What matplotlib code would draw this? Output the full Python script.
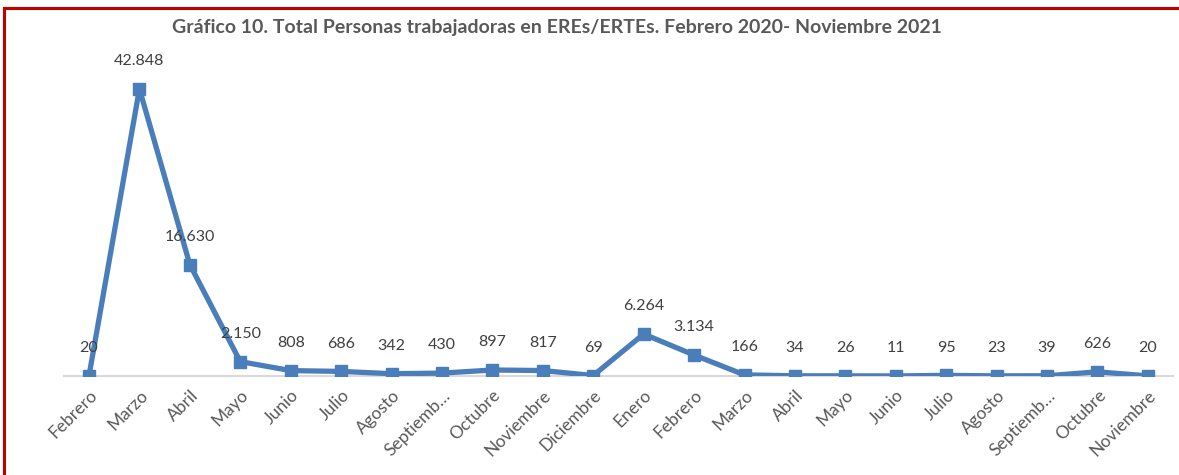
import matplotlib.pyplot as plt
from matplotlib.lines import Line2D

meses = ["Febrero", "Marzo", "Abril", "Mayo", "Junio", "Julio", "Agosto",
         "Septiemb…", "Octubre", "Noviembre", "Diciembre", "Enero", "Febrero",
         "Marzo", "Abril", "Mayo", "Junio", "Julio", "Agosto", "Septiemb…",
         "Octubre", "Noviembre"]
personas = [20, 42848, 16630, 2150, 808, 686, 342, 430, 897, 817, 69, 6264,
            3134, 166, 34, 26, 11, 95, 23, 39, 626, 20]
etiquetas = ["20", "42.848", "16.630", "2.150", "808", "686", "342", "430",
             "897", "817", "69", "6.264", "3.134", "166", "34", "26", "11",
             "95", "23", "39", "626", "20"]

plt.rcParams['font.family'] = ['Lato', 'DejaVu Sans']

fig = plt.figure(figsize=(11.79, 4.75), dpi=100)
ax = fig.add_axes([0.0541, 0.2084, 0.9409, 0.7053])

x = list(range(len(personas)))
ax.plot(x, personas, color='#4a7ebb', linewidth=3.8, marker='s',
        markersize=9, zorder=3)

for xi, yi, t in zip(x, personas, etiquetas):
    ax.annotate(t, (xi, yi), xytext=(0, 20), textcoords='offset points',
                ha='center', va='center', fontsize=11.5, color='#404040')

ax.set_xlim(-0.5, len(personas) - 0.5)
ax.set_ylim(0, 50000)
ax.set_xticks(x)
ax.set_xticklabels(meses, rotation=45, ha='right', rotation_mode='anchor',
                   fontsize=12.5, color='#595959')
ax.tick_params(axis='x', length=0, pad=8)
ax.set_yticks([])
for s in ['top', 'left', 'right']:
    ax.spines[s].set_visible(False)
ax.spines['bottom'].set_color('#d9d9d9')
ax.spines['bottom'].set_linewidth(1.5)
ax.spines['bottom'].set_zorder(1)

fig.text(0.4725, 0.943, "Gráfico 10. Total Personas trabajadoras en EREs/ERTEs. Febrero 2020- Noviembre 2021",
         ha='center', va='center', fontsize=14, fontweight='bold', color='#595959')

# marco rojo
fig.add_artist(Line2D([0.003, 1], [0.983, 0.983], color='#c00000', linewidth=2.2,
                      transform=fig.transFigure))
fig.add_artist(Line2D([0.003, 0.003], [0, 0.983], color='#c00000', linewidth=2.2,
                      transform=fig.transFigure))

fig.savefig('out.png', dpi=100)
